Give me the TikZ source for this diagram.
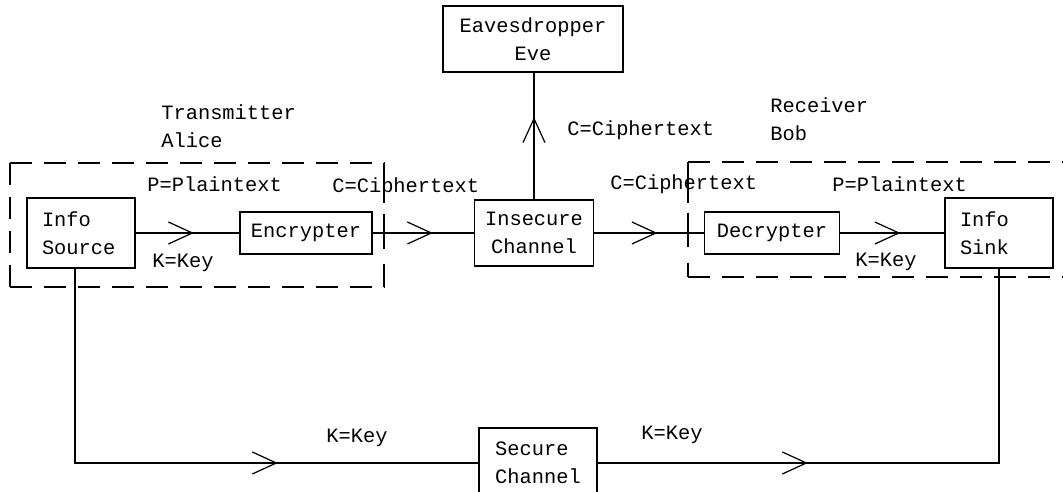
\documentclass[tikz,border=0pt]{standalone}
\usepackage{fontspec}
\setmainfont{Liberation Mono}
\usetikzlibrary{arrows.meta,decorations.markings}
\tikzset{
  block/.style={draw, line width=1pt, inner sep=0pt, align=center},
  infobox/.style={block, minimum width=2.16cm, minimum height=1.4cm, text width=1.56cm, align=left},
  tag/.style={anchor=west, inner sep=0pt, align=left},
  wire/.style={line width=1pt},
  dashbox/.style={line width=1pt, dash pattern=on 0.44cm off 0.24cm},
  midarrow/.style={postaction={decorate}, decoration={markings, mark=at position #1 with {\arrow{Straight Barb[length=0.48cm,width=0.44cm,line width=0.7pt]}}}}
}
\begin{document}
\begin{tikzpicture}[x=0.02cm,y=-0.02cm,font=\fontsize{11.6}{16}\selectfont]
\clip (0,0) rectangle (1063,492);
\node[infobox] (src) at (81,233) {Info\\Source};
\node[block, minimum width=2.64cm, minimum height=0.84cm] (enc) at (306,233) {Encrypter};
\node[block, minimum width=2.38cm, minimum height=1.32cm] (ins) at (534,233) {Insecure\\Channel};
\node[block, minimum width=3.6cm, minimum height=1.32cm] (eve) at (533,39) {Eavesdropper\\Eve};
\node[block, minimum width=2.7cm, minimum height=0.84cm] (dec) at (772,233) {Decrypter};
\node[infobox] (sink) at (999,233) {Info\\Sink};
\node[block, align=left, minimum width=2.36cm, minimum height=1.4cm] (sec) at (538,463) {Secure\\Channel};
\draw[dashbox] (10,163) -- (384,163);
\draw[dashbox] (10,287) -- (384,287);
\draw[dashbox] (10,163) -- (10,287);
\draw[dashbox, dash pattern=on 0.8cm off 0.22cm on 0.7cm off 0.3cm on 1cm] (384,163) -- (384,287);
\draw[dashbox] (688,162) -- (1070,162);
\draw[dashbox] (688,277) -- (1070,277);
\draw[dashbox, dash pattern=on 0.82cm off 0.2cm on 0.68cm off 0.32cm on 1cm] (688,162) -- (688,277);
\draw[wire, midarrow=1.16cm] (src.east) -- (enc.west);
\draw[wire, midarrow=1.2cm] (enc.east) -- (ins.west);
\draw[wire, midarrow=1.26cm] (ins.east) -- (dec.west);
\draw[wire, midarrow=1.2cm] (dec.east) -- (sink.west);
\draw[wire, midarrow=1.64cm] (ins.north) -- (ins.north |- eve.south);
\coordinate (kleft) at (75,463);
\draw[wire, midarrow=7.94cm] (src.south -| kleft) |- (sec.west);
\draw[wire, midarrow=4.2cm] (sec.east) -| (sink.south);
\node[tag] (tx) at (161,126) {Transmitter\\Alice};
\node[tag] (rx) at (770,119) {Receiver\\Bob};
\node[tag] (pl) at (147,184) {P=Plaintext};
\node[tag] (kl) at (152,263) {K=Key};
\node[tag] (cl) at (332,187) {C=Ciphertext};
\node[tag] (ce) at (567,130) {C=Ciphertext};
\node[tag] (cr) at (610,184) {C=Ciphertext};
\node[tag] (pr) at (832,184) {P=Plaintext};
\node[tag] (kr) at (855,262) {K=Key};
\node[tag] (kbl) at (326,438) {K=Key};
\node[tag] (kbr) at (641,435) {K=Key};
\end{tikzpicture}
\end{document}
